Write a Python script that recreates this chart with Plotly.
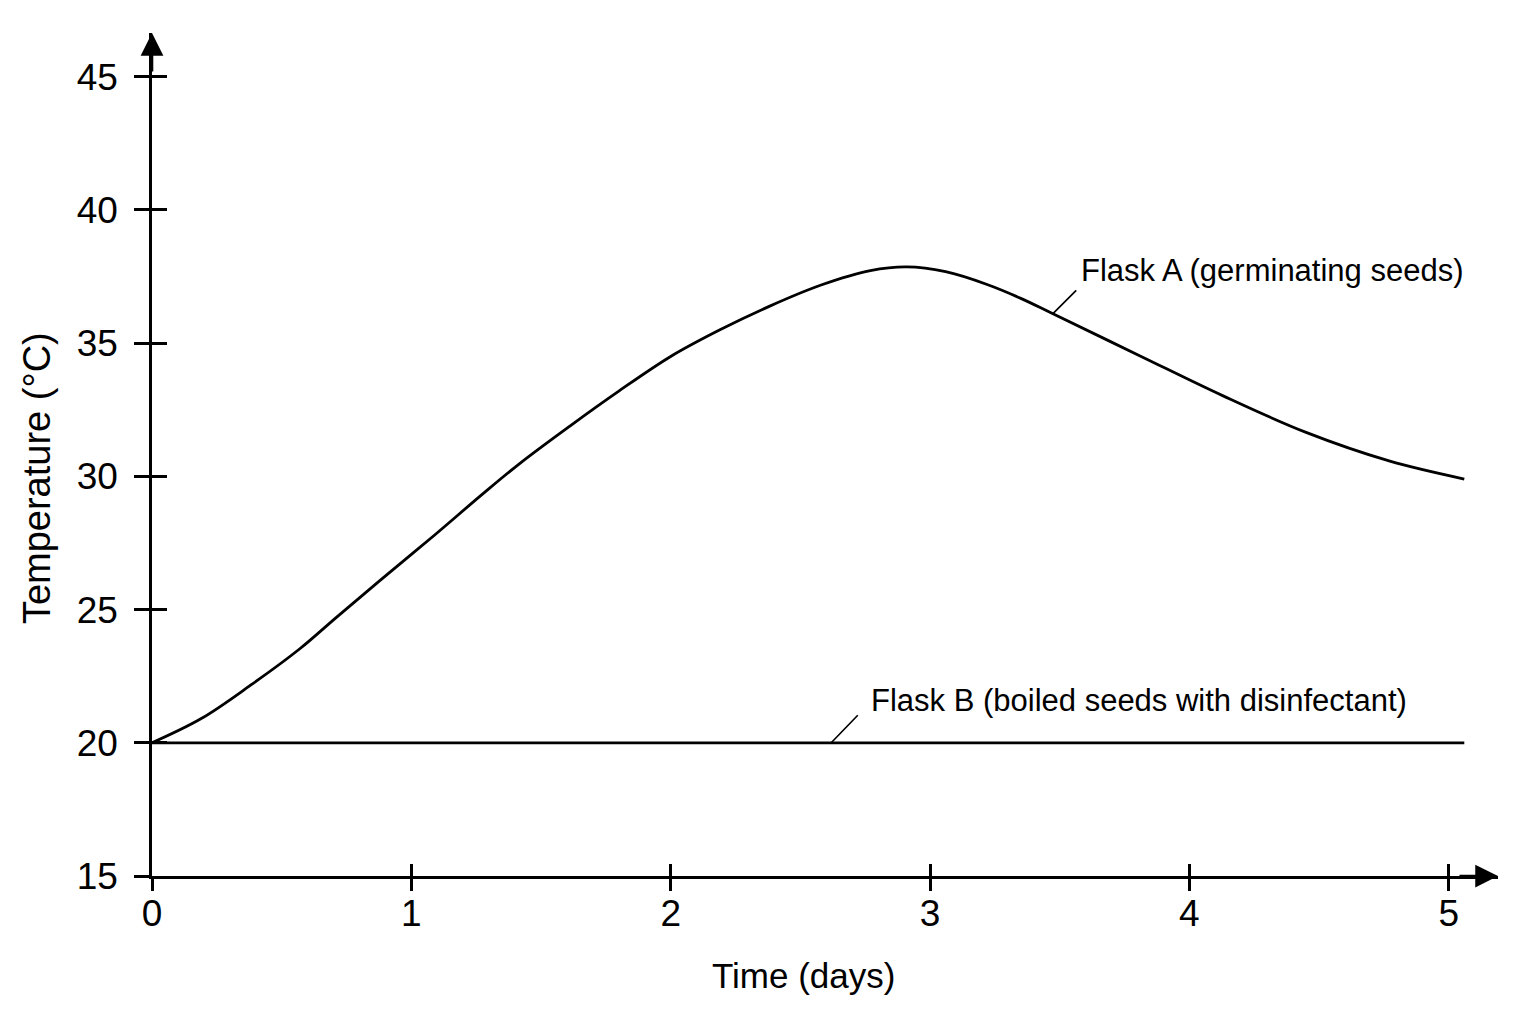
import plotly.graph_objects as go

# Flask A (germinating seeds): temperature
days_a = [0, 0.19, 0.38, 0.57, 0.71, 0.89, 1.09, 1.28, 1.42, 1.61, 1.80, 2.00,
          2.19, 2.38, 2.58, 2.77, 2.91, 3.06, 3.22, 3.35, 3.47, 3.81, 4.13,
          4.45, 4.77, 5.06]
temp_a = [20.0, 20.91, 22.16, 23.53, 24.7, 26.18, 27.8, 29.38, 30.5, 31.88, 33.2, 34.5,
          35.5, 36.38, 37.18, 37.72, 37.86, 37.68, 37.2, 36.68, 36.12, 34.52, 33.02,
          31.65, 30.58, 29.9]

# Flask B (boiled seeds with disinfectant): stays at room temperature
days_b = [0, 5.06]
temp_b = [20, 20]

x_ticks = [0, 1, 2, 3, 4, 5]
y_ticks = [15, 20, 25, 30, 35, 40, 45]

FONT = "Liberation Sans, Arial, sans-serif"
X_RANGE = [0, 5.19]
Y_RANGE = [15, 46.64]

fig = go.Figure()

fig.add_trace(go.Scatter(
    x=days_a, y=temp_a,
    mode="lines",
    line=dict(color="black", width=2.8, shape="spline", smoothing=1.0),
    name="Flask A",
    hoverinfo="skip"
))

fig.add_trace(go.Scatter(
    x=days_b, y=temp_b,
    mode="lines",
    line=dict(color="black", width=2.8),
    name="Flask B",
    xaxis="x2", yaxis="y2",
    hoverinfo="skip"
))

axis_common = dict(
    showgrid=False, zeroline=False, automargin=False,
    tickcolor="black", tickwidth=2.6,
)

# page body has an 8px margin, so the figure is 8px smaller than the window
fig.update_layout(
    width=1528, height=1016,
    paper_bgcolor="white", plot_bgcolor="white",
    showlegend=False,
    margin=dict(l=144, r=38, t=25, b=148),
    font=dict(family=FONT, color="black"),
    xaxis=dict(
        range=X_RANGE, tickvals=x_ticks,
        ticks="outside", ticklen=12, ticklabelstandoff=-9,
        showline=True, linecolor="black", linewidth=2.6,
        tickfont=dict(size=37, family=FONT, color="black"),
        **axis_common
    ),
    yaxis=dict(
        range=Y_RANGE, tickvals=y_ticks,
        ticks="outside", ticklen=15, ticklabelstandoff=9,
        showline=True, linecolor="black", linewidth=2.6,
        tickfont=dict(size=37, family=FONT, color="black"),
        **axis_common
    ),
    # overlaid axes give the inner half of the crossing ticks
    xaxis2=dict(
        range=X_RANGE, tickvals=x_ticks, overlaying="x", anchor="y2", side="bottom",
        ticks="inside", ticklen=12, showticklabels=False, showline=False,
        **axis_common
    ),
    yaxis2=dict(
        range=Y_RANGE, tickvals=y_ticks, overlaying="y", anchor="x2", side="left",
        ticks="inside", ticklen=15, showticklabels=False, showline=False,
        **axis_common
    ),
)

# axis titles (off-centre in the original, so placed as annotations)
fig.add_annotation(xref="paper", yref="paper", x=0.4837, y=0, yshift=-99,
                   text="Time (days)", showarrow=False, xanchor="center", yanchor="middle",
                   font=dict(size=35, family=FONT, color="black"))
fig.add_annotation(xref="paper", yref="paper", x=0, y=0.472, xshift=-115,
                   text="Temperature (°C)", showarrow=False, textangle=-90,
                   xanchor="center", yanchor="middle",
                   font=dict(size=38, family=FONT, color="black"))

# axis arrowheads
fig.add_annotation(xref="paper", yref="paper", x=1, y=0, ax=-40, ay=0, text="",
                   showarrow=True, arrowhead=2, arrowsize=1.75, arrowwidth=2.6, arrowcolor="black")
fig.add_annotation(xref="paper", yref="paper", x=0, y=1, ax=0, ay=40, text="",
                   showarrow=True, arrowhead=2, arrowsize=1.75, arrowwidth=2.6, arrowcolor="black")

# leader lines and labels
fig.add_annotation(x=3.473, y=36.1, ax=25, ay=-25, text="",
                   showarrow=True, arrowhead=0, arrowwidth=1.7, arrowcolor="black")
fig.add_annotation(x=3.573, y=37.73, text="Flask A (germinating seeds)", showarrow=False,
                   xanchor="left", yanchor="middle", font=dict(size=31, family=FONT, color="black"))
fig.add_annotation(x=2.619, y=20, ax=28, ay=-29, text="",
                   showarrow=True, arrowhead=0, arrowwidth=1.7, arrowcolor="black")
fig.add_annotation(x=2.766, y=21.57, text="Flask B (boiled seeds with disinfectant)", showarrow=False,
                   xanchor="left", yanchor="middle", font=dict(size=31, family=FONT, color="black"))

fig.write_html("out.html")
